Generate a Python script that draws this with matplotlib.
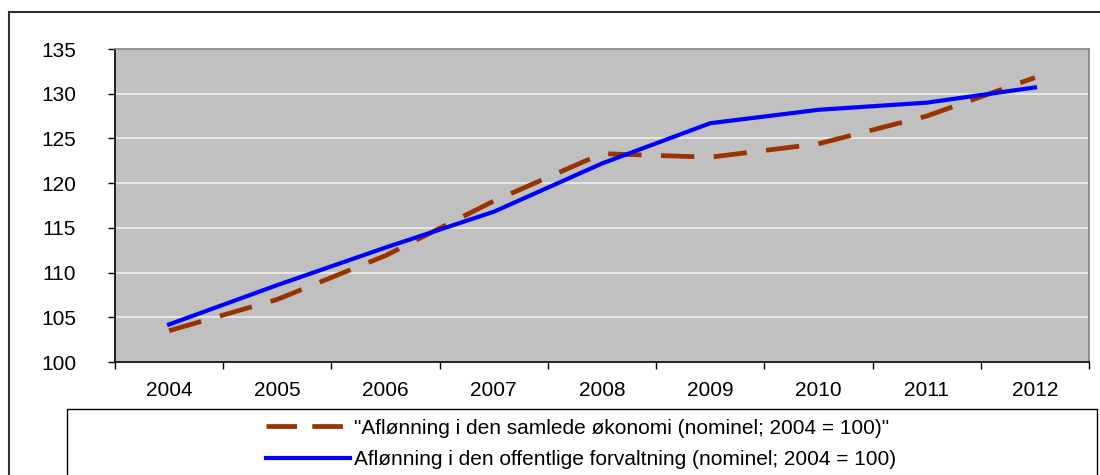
import matplotlib.pyplot as plt
from matplotlib.patches import Rectangle
from matplotlib.lines import Line2D

plt.rcParams['font.family'] = ['Liberation Sans', 'DejaVu Sans']
plt.rcParams['lines.scale_dashes'] = False

# Data (index 2004 = 100)
years = ["2004", "2005", "2006", "2007", "2008", "2009", "2010", "2011", "2012"]
samlede = [103.5, 107.0, 111.9, 118.0, 123.3, 122.9, 124.4, 127.5, 131.8]
offentlige = [104.2, 108.6, 112.8, 116.8, 122.2, 126.7, 128.2, 129.0, 130.7]

label_samlede = '"Aflønning i den samlede økonomi (nominel; 2004 = 100)"'
label_offentlige = "Aflønning i den offentlige forvaltning (nominel; 2004 = 100)"

W, H = 1100, 475
fig = plt.figure(figsize=(W / 100, H / 100), dpi=100)
ax = fig.add_axes([115 / W, 1 - 362 / H, (1089 - 115) / W, (362 - 49) / H])

x = range(len(years))
ax.set_facecolor("#C0C0C0")
ax.plot(x, samlede, color="#993300", linewidth=3.4, dashes=(24, 14),
        solid_capstyle="butt", dash_capstyle="butt", zorder=3)
ax.plot(x, offentlige, color="#0000FF", linewidth=3.0, zorder=4)

ax.set_xlim(-0.5, len(years) - 0.5)
ax.set_ylim(100, 135)
ax.set_yticks(range(100, 136, 5))
ax.yaxis.grid(True, color="#EEEEEE", linewidth=1.2)
ax.set_axisbelow(True)

ax.set_xticks(list(x))
ax.set_xticklabels(years)
ax.set_xticks([i - 0.5 for i in range(len(years) + 1)], minor=True)
ax.tick_params(axis="x", which="major", length=0, pad=13.5, labelsize=15)
ax.tick_params(axis="x", which="minor", length=5, width=1, direction="out")
ax.tick_params(axis="y", length=5, width=1, direction="out", pad=23, labelsize=15)
for lab in ax.get_yticklabels():
    lab.set_horizontalalignment("right")

ax.spines["left"].set_color("black")
ax.spines["bottom"].set_color("black")
ax.spines["top"].set_color("#808080")
ax.spines["right"].set_color("#808080")
for s in ax.spines.values():
    s.set_linewidth(1.2)

# outer chart border and legend box
fig.patches.append(Rectangle((9 / W, -0.1), 1.2, 1.1 - 12 / H, transform=fig.transFigure,
                             fill=False, edgecolor="#333333", linewidth=1.5))
fig.patches.append(Rectangle((67 / W, -0.1), (1097 - 67) / W, 0.1 + 1 - 409 / H,
                             transform=fig.transFigure, fill=False,
                             edgecolor="black", linewidth=1.0))

handles = [
    Line2D([], [], color="#993300", linewidth=3.4, dashes=(22, 11)),
    Line2D([], [], color="#0000FF", linewidth=3.0),
]
fig.legend(handles, [label_samlede, label_offentlige], loc="center",
           bbox_to_anchor=(581 / W, 1 - 444 / H), frameon=False, fontsize=15,
           handlelength=4, handletextpad=0.2, labelspacing=0.6,
           borderpad=0)

fig.savefig("out.png", dpi=100)
